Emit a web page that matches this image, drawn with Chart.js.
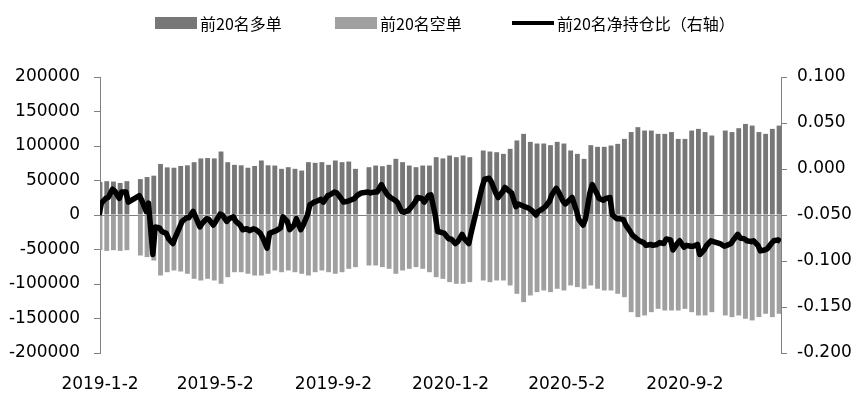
<!DOCTYPE html>
<html>
<head>
<meta charset="utf-8">
<script src="https://cdn.jsdelivr.net/npm/chart.js@4/dist/chart.umd.min.js"></script>
<style>
  body { margin: 0; background: #fff; }
  #wrap { position: relative; width: 865px; height: 398px; }
  #legend { position: absolute; left: 0; top: 0; width: 865px; height: 40px; font-family: "Noto Sans CJK SC", sans-serif; font-size: 16px; color: #000; }
  .sw { position: absolute; }
  .lb { position: absolute; top: 12px; line-height: 22px; white-space: nowrap; }
</style>
</head>
<body>
<div id="wrap">
  <canvas id="c" width="865" height="398"></canvas>
  <div id="legend"></div>
</div>
<script>
// week (Monday) of each bar
const weeks = [
  '2018-12-31','2019-01-07','2019-01-14','2019-01-21','2019-01-28','2019-02-04','2019-02-11','2019-02-18','2019-02-25','2019-03-04',
  '2019-03-11','2019-03-18','2019-03-25','2019-04-01','2019-04-08','2019-04-15','2019-04-22','2019-04-29','2019-05-06','2019-05-13',
  '2019-05-20','2019-05-27','2019-06-03','2019-06-10','2019-06-17','2019-06-24','2019-07-01','2019-07-08','2019-07-15','2019-07-22',
  '2019-07-29','2019-08-05','2019-08-12','2019-08-19','2019-08-26','2019-09-02','2019-09-09','2019-09-16','2019-09-23','2019-09-30',
  '2019-10-07','2019-10-14','2019-10-21','2019-10-28','2019-11-04','2019-11-11','2019-11-18','2019-11-25','2019-12-02','2019-12-09',
  '2019-12-16','2019-12-23','2019-12-30','2020-01-06','2020-01-13','2020-01-20','2020-01-27','2020-02-03','2020-02-10','2020-02-17',
  '2020-02-24','2020-03-02','2020-03-09','2020-03-16','2020-03-23','2020-03-30','2020-04-06','2020-04-13','2020-04-20','2020-04-27',
  '2020-05-04','2020-05-11','2020-05-18','2020-05-25','2020-06-01','2020-06-08','2020-06-15','2020-06-22','2020-06-29','2020-07-06',
  '2020-07-13','2020-07-20','2020-07-27','2020-08-03','2020-08-10','2020-08-17','2020-08-24','2020-08-31','2020-09-07','2020-09-14',
  '2020-09-21','2020-09-28','2020-10-05','2020-10-12','2020-10-19','2020-10-26','2020-11-02','2020-11-09','2020-11-16','2020-11-23',
  '2020-11-30','2020-12-07'
];

const longTop20 = [
  48000,49000,48500,46500,49000,null,52000,55000,57000,74000,
  69000,68500,71000,72000,76500,82000,82500,82000,92000,76500,
  72700,72000,68500,71000,79000,72000,71700,66900,69300,66900,
  64400,76600,75600,76600,72700,79000,76600,77500,66900,null,
  69300,71700,70700,72700,81400,76600,71700,69300,71700,71700,
  83800,82000,86200,83800,86200,83800,null,93500,92000,91000,
  88600,95900,108000,117600,106000,103600,103600,101200,106000,103600,
  93500,88600,81400,101200,98800,98800,100700,103100,110300,120200,
  127300,122400,122400,117600,117600,120200,110300,110300,122400,124800,
  120200,115200,null,122400,120200,125800,132000,129600,120200,117600,
  124800,129600
];

const shortTop20 = [
  -51000,-52000,-51000,-52000,-51000,null,-58700,-61000,-66000,-87700,
  -82900,-80400,-81900,-85200,-92500,-94900,-92500,-94900,-99700,-90100,
  -82900,-82900,-85200,-87700,-87700,-85200,-80400,-82900,-80400,-82900,
  -85200,-87700,-82900,-80400,-82900,-85200,-82900,-78000,-75600,null,
  -73200,-73200,-75600,-78000,-85200,-80400,-78000,-75600,-78000,-82900,
  -90100,-92500,-97300,-99700,-99700,-97300,null,-94900,-97300,-94900,
  -94900,-102100,-114200,-126300,-116600,-111800,-109400,-111800,-106900,-109400,
  -102100,-104500,-106900,-102100,-106900,-109400,-109400,-114200,-119100,-140800,
  -148000,-145600,-140800,-136000,-138400,-138400,-138400,-136000,-140800,-145600,
  -145600,-140800,null,-145600,-148000,-145600,-150400,-152800,-148000,-143200,
  -148000,-143200
];

// net ratio, two readings per week: early (Tue) and late (Thu/Fri)
const ratioEarly = [
  -0.050,-0.032,-0.022,-0.032,-0.025,null,-0.029,-0.046,-0.093,-0.064,
  -0.070,-0.081,-0.063,-0.053,-0.046,-0.063,-0.054,-0.061,-0.049,-0.057,
  -0.052,-0.061,-0.065,-0.065,-0.070,-0.086,-0.068,-0.064,-0.057,-0.061,
  -0.066,-0.050,-0.036,-0.033,-0.029,-0.025,-0.032,-0.035,-0.032,-0.026,
  -0.025,-0.025,-0.017,-0.029,-0.034,-0.046,-0.045,-0.036,-0.032,-0.029,
  -0.050,-0.069,-0.076,-0.081,-0.071,-0.081,null,-0.019,-0.010,-0.026,
  -0.025,-0.024,-0.041,-0.040,-0.043,-0.050,-0.043,-0.035,-0.021,-0.035,
  null,-0.045,-0.061,-0.026,-0.026,-0.034,-0.031,-0.054,-0.055,-0.068,
  -0.076,-0.080,-0.082,-0.082,-0.081,-0.077,-0.081,-0.085,-0.084,-0.082,
  -0.088,-0.078,null,-0.084,-0.081,-0.071,-0.076,-0.079,-0.083,-0.088,
  -0.081,-0.077
];
const ratioLate = [
  -0.037,-0.031,-0.024,-0.025,-0.036,null,-0.034,-0.037,-0.063,-0.068,
  -0.076,-0.074,-0.057,-0.053,-0.052,-0.059,-0.055,-0.057,-0.050,-0.054,
  -0.057,-0.066,-0.067,-0.066,-0.075,-0.070,-0.067,-0.052,-0.066,-0.054,
  -0.061,-0.039,-0.035,-0.036,-0.028,-0.026,-0.036,-0.034,-0.029,null,
  -0.026,-0.025,-0.022,-0.031,-0.036,-0.047,-0.042,-0.031,-0.036,-0.028,
  -0.068,-0.070,-0.076,-0.079,-0.076,-0.069,null,-0.011,-0.014,-0.031,
  -0.020,-0.026,-0.038,-0.041,-0.045,-0.046,-0.041,-0.028,-0.025,-0.038,
  -0.031,-0.055,-0.054,-0.017,-0.032,-0.032,-0.050,-0.054,-0.061,-0.072,
  -0.078,-0.083,-0.083,-0.080,-0.076,-0.088,-0.078,-0.083,-0.084,-0.093,
  -0.083,null,-0.081,-0.083,-0.077,-0.075,-0.078,-0.078,-0.089,-0.087,
  -0.078,-0.079
];

const xTickLabels = ['2019-1-2','2019-5-2','2019-9-2','2020-1-2','2020-5-2','2020-9-2'];
const xTickDates = ['2019-01-02','2019-05-02','2019-09-02','2020-01-02','2020-05-02','2020-09-02'];
const lastDay = '2020-12-11';

const seriesNames = ['前20名多单','前20名空单','前20名净持仓比（右轴）'];
const colors = ['#777777','#a0a0a0','#000000'];

// days counted from 2019-01-02
const t0 = Date.parse('2019-01-02');
function dayOf(s) { return (Date.parse(s) - t0) / 86400000; }

const barLong = weeks.map((w, i) => ({ x: dayOf(w) + 2, y: longTop20[i] }));
const barShort = weeks.map((w, i) => ({ x: dayOf(w) + 2, y: shortTop20[i] }));
const ratioPts = [];
weeks.forEach((w, i) => {
  ratioPts.push({ x: dayOf(w) + 1, y: ratioEarly[i] });
  ratioPts.push({ x: dayOf(w) + 3.5, y: ratioLate[i] });
});
const xTickDays = xTickDates.map(dayOf);

const font = { family: 'DejaVu Sans', size: 17 };

new Chart(document.getElementById('c'), {
  data: {
    datasets: [
      { type: 'line', label: seriesNames[2], data: ratioPts, yAxisID: 'y1', borderColor: colors[2],
        backgroundColor: colors[2], borderWidth: 5.5, borderJoinStyle: 'round', pointRadius: 0,
        tension: 0, spanGaps: true, order: 0 },
      { type: 'bar', label: seriesNames[0], data: barLong, yAxisID: 'y', backgroundColor: colors[0],
        grouped: false, barPercentage: 1, categoryPercentage: 0.72, order: 1 },
      { type: 'bar', label: seriesNames[1], data: barShort, yAxisID: 'y', backgroundColor: colors[1],
        grouped: false, barPercentage: 1, categoryPercentage: 0.72, order: 2 }
    ]
  },
  options: {
    responsive: false,
    animation: false,
    devicePixelRatio: 1,
    layout: { padding: { top: 77, left: 0, right: 0, bottom: 0 } },
    plugins: { legend: { display: false }, tooltip: { enabled: false } },
    scales: {
      x: {
        type: 'linear', min: 0, max: dayOf(lastDay), offset: false,
        border: { display: false },
        grid: { display: false, offset: false },
        afterBuildTicks: (s) => { s.ticks = xTickDays.map(v => ({ value: v })); },
        afterFit: (s) => { s.height = 45; },
        ticks: { font, color: '#000', padding: 13, autoSkip: false, maxRotation: 0,
          callback: (v, i) => xTickLabels[i] }
      },
      y: {
        position: 'left', min: -200000, max: 200000,
        border: { display: true, color: '#808080', width: 1 },
        grid: { color: (c) => (c.tick && c.tick.value === 0 ? '#808080' : 'rgba(0,0,0,0)'),
          tickColor: '#808080', tickLength: 6, lineWidth: 1 },
        afterFit: (s) => { s.width = 100; },
        ticks: { font, color: '#000', padding: 14, stepSize: 50000, callback: (v) => String(v) }
      },
      y1: {
        position: 'right', min: -0.2, max: 0.1,
        border: { display: true, color: '#808080', width: 1 },
        grid: { drawOnChartArea: false, tickColor: '#808080', tickLength: 6 },
        afterFit: (s) => { s.width = 84; },
        ticks: { font, color: '#000', padding: 10, stepSize: 0.05, callback: (v) => v.toFixed(3) }
      }
    }
  }
});

// legend
const lg = document.getElementById('legend');
const legendPos = [155, 335, 512];
seriesNames.forEach((name, i) => {
  const sw = document.createElement('div');
  sw.className = 'sw';
  sw.style.left = legendPos[i] + 'px';
  sw.style.width = '42px';
  if (i < 2) { sw.style.top = '17px'; sw.style.height = '12px'; }
  else { sw.style.top = '21px'; sw.style.height = '4px'; }
  sw.style.background = colors[i];
  lg.appendChild(sw);
  const lb = document.createElement('div');
  lb.className = 'lb';
  lb.style.left = (legendPos[i] + 45) + 'px';
  lb.textContent = name;
  lg.appendChild(lb);
});
</script>
</body>
</html>
